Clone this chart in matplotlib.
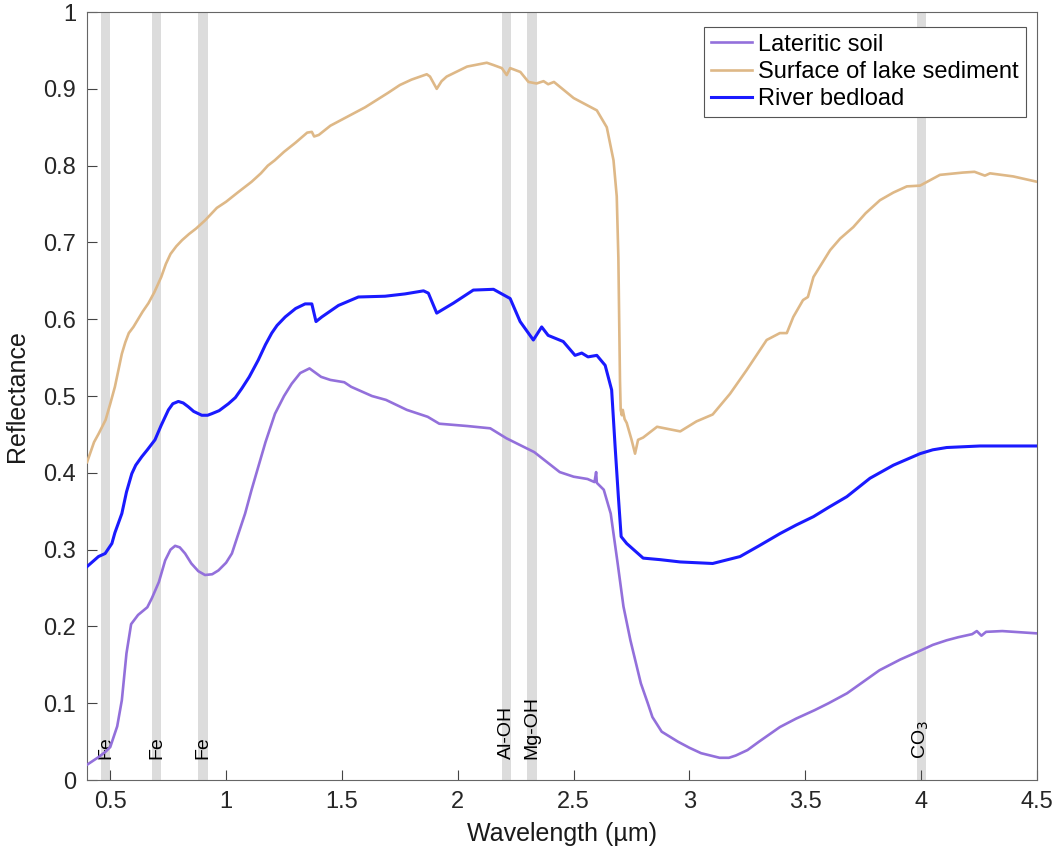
import matplotlib
matplotlib.use("Agg")
import matplotlib.pyplot as plt
from matplotlib.ticker import FuncFormatter, MultipleLocator

plt.rcParams['font.family'] = ['Liberation Sans', 'DejaVu Sans']

# ---- data ----
soil_wl = [0.40, 0.45, 0.48, 0.50, 0.53, 0.55, 0.57, 0.59, 0.62, 0.66, 0.68, 0.71, 0.737, 0.76, 0.78,
           0.80, 0.823, 0.85, 0.88, 0.909, 0.94, 0.967, 1.00, 1.025, 1.05, 1.082, 1.11, 1.139, 1.17,
           1.211, 1.25, 1.283, 1.32, 1.36, 1.41, 1.45, 1.51, 1.54,
           1.63, 1.69, 1.78, 1.87, 1.92, 2.04, 2.14, 2.21, 2.33, 2.44, 2.50, 2.56, 2.59, 2.597,
           2.60, 2.63, 2.66, 2.69, 2.715, 2.745, 2.79, 2.82, 2.84, 2.88, 2.95, 3.00, 3.05, 3.13, 3.17,
           3.20, 3.25, 3.30, 3.39, 3.46, 3.54, 3.60, 3.68, 3.75, 3.82, 3.91, 4.00, 4.05, 4.11, 4.16,
           4.22, 4.24, 4.26, 4.28, 4.35, 4.50]
soil_r = [0.020, 0.030, 0.037, 0.043, 0.070, 0.104, 0.165, 0.203, 0.215, 0.225, 0.237, 0.258, 0.286, 0.300, 0.305,
          0.303, 0.295, 0.282, 0.272, 0.267, 0.268, 0.273, 0.283, 0.295, 0.318, 0.347, 0.378, 0.408, 0.440,
          0.477, 0.500, 0.516, 0.530, 0.536, 0.525, 0.521, 0.518, 0.512,
          0.500, 0.495, 0.482, 0.473, 0.464, 0.461, 0.458, 0.445, 0.427, 0.401, 0.395, 0.392, 0.388, 0.401,
          0.387, 0.378, 0.347, 0.282, 0.226, 0.182, 0.126, 0.100, 0.082, 0.063, 0.050, 0.042, 0.035, 0.029, 0.029,
          0.032, 0.039, 0.050, 0.069, 0.080, 0.091, 0.100, 0.113, 0.128, 0.143, 0.157, 0.169, 0.176, 0.182, 0.186,
          0.190, 0.194, 0.188, 0.193, 0.194, 0.191]

lake_wl = [0.40, 0.43, 0.45, 0.48, 0.50, 0.52, 0.55, 0.565, 0.58, 0.60, 0.62, 0.64, 0.665, 0.69, 0.72,
           0.74, 0.76, 0.785, 0.81, 0.84, 0.87, 0.91, 0.96,
           1.00, 1.05, 1.11, 1.15, 1.18, 1.21, 1.25, 1.30, 1.35, 1.37, 1.38, 1.40, 1.45, 1.50, 1.60, 1.70,
           1.75, 1.80, 1.866, 1.88, 1.909, 1.93, 1.952, 2.04, 2.125, 2.154, 2.19, 2.211, 2.226,
           2.27, 2.305, 2.34, 2.37, 2.39, 2.415, 2.50, 2.60, 2.643, 2.672, 2.686, 2.693, 2.700,
           2.703, 2.708, 2.712, 2.72, 2.729, 2.75, 2.765, 2.778, 2.80, 2.86, 2.96, 3.03, 3.10,
           3.175, 3.247, 3.333, 3.39, 3.42, 3.448, 3.49, 3.511, 3.535, 3.607, 3.65, 3.707, 3.76, 3.822,
           3.88, 3.938, 3.995, 4.081, 4.18, 4.23, 4.275, 4.297, 4.397, 4.50]
lake_r = [0.414, 0.440, 0.451, 0.469, 0.490, 0.512, 0.555, 0.570, 0.582, 0.590, 0.600, 0.610, 0.621, 0.635, 0.655,
          0.672, 0.685, 0.695, 0.703, 0.711, 0.718, 0.729, 0.745,
          0.753, 0.765, 0.779, 0.790, 0.800, 0.807, 0.818, 0.830, 0.843, 0.844, 0.838, 0.840, 0.852, 0.860, 0.876, 0.895,
          0.905, 0.912, 0.919, 0.916, 0.900, 0.910, 0.916, 0.929, 0.934, 0.931, 0.927, 0.918, 0.927,
          0.922, 0.909, 0.907, 0.910, 0.906, 0.909, 0.888, 0.872, 0.850, 0.807, 0.760, 0.680, 0.520,
          0.482, 0.475, 0.482, 0.470, 0.465, 0.443, 0.425, 0.443, 0.446, 0.460, 0.454, 0.467, 0.476,
          0.503, 0.534, 0.573, 0.582, 0.582, 0.603, 0.625, 0.629, 0.655, 0.690, 0.705, 0.720, 0.738, 0.755,
          0.765, 0.773, 0.774, 0.788, 0.791, 0.792, 0.787, 0.790, 0.786, 0.779]

river_wl = [0.40, 0.449, 0.478, 0.507, 0.52, 0.55, 0.57, 0.593, 0.61, 0.636, 0.66, 0.693, 0.72, 0.751, 0.77,
            0.794, 0.815, 0.837, 0.86, 0.895, 0.92, 0.938, 0.97,
            1.01, 1.04, 1.068, 1.10, 1.139, 1.17, 1.197, 1.22, 1.255, 1.30, 1.341, 1.37, 1.388, 1.413, 1.485,
            1.571, 1.686, 1.772,
            1.852, 1.873, 1.909, 1.981, 2.067, 2.154, 2.226, 2.269, 2.326, 2.362, 2.39, 2.455, 2.506,
            2.535, 2.562, 2.60, 2.636, 2.664, 2.679, 2.693, 2.705, 2.729, 2.80, 2.873, 2.96, 3.10,
            3.218, 3.30, 3.391, 3.46, 3.535, 3.60, 3.679, 3.779, 3.88, 3.995, 4.05, 4.11, 4.254, 4.50]
river_r = [0.278, 0.291, 0.295, 0.308, 0.322, 0.347, 0.375, 0.399, 0.410, 0.421, 0.430, 0.443, 0.462, 0.482, 0.490,
           0.493, 0.491, 0.486, 0.480, 0.475, 0.475, 0.477, 0.481,
           0.490, 0.498, 0.510, 0.525, 0.547, 0.567, 0.582, 0.592, 0.603, 0.614, 0.620, 0.620, 0.597, 0.603, 0.618,
           0.629, 0.630, 0.633,
           0.637, 0.634, 0.608, 0.621, 0.638, 0.639, 0.627, 0.597, 0.573, 0.590, 0.579, 0.571, 0.553,
           0.556, 0.551, 0.553, 0.540, 0.508, 0.434, 0.369, 0.317, 0.308, 0.289, 0.287, 0.284, 0.282,
           0.291, 0.305, 0.321, 0.332, 0.343, 0.355, 0.369, 0.393, 0.410, 0.425, 0.430, 0.433, 0.435, 0.435]

band_centers = [0.48, 0.70, 0.90, 2.21, 2.32, 4.00]
band_labels = ['Fe', 'Fe', 'Fe', 'Al-OH', 'Mg-OH', 'CO$_3$']
band_width = 0.04

series_names = ['Lateritic soil', 'Surface of lake sediment', 'River bedload']
x_ticks = [0.5, 1, 1.5, 2, 2.5, 3, 3.5, 4, 4.5]

# ---- figure ----
fig = plt.figure(figsize=(10.62, 8.61), dpi=100)
ax = fig.add_axes([0.082, 0.094, 0.8945, 0.892])

for c in band_centers:
    ax.axvspan(c - band_width / 2, c + band_width / 2, color='#dcdcdc', lw=0, zorder=0)
for c, lab in zip(band_centers, band_labels):
    ax.text(c, 0.028, lab, rotation=90, ha='center', va='bottom', fontsize=14, color='black', zorder=1)

ax.plot(soil_wl, soil_r, color='#9370DB', lw=1.9, label=series_names[0], zorder=3)
ax.plot(lake_wl, lake_r, color='#DEB887', lw=1.9, label=series_names[1], zorder=3)
ax.plot(river_wl, river_r, color='#1a1aff', lw=2.2, label=series_names[2], zorder=3)

ax.set_xlim(0.4, 4.5)
ax.set_ylim(0, 1)
ax.set_xticks(x_ticks)
ax.yaxis.set_major_locator(MultipleLocator(0.1))
fmt = FuncFormatter(lambda v, p: ('%g' % round(v, 2)))
ax.xaxis.set_major_formatter(fmt)
ax.yaxis.set_major_formatter(fmt)
ax.tick_params(direction='in', length=7, width=0.8, colors='#444444', labelcolor='#262626',
               labelsize=17, top=False, right=False, pad=8)
for s in ax.spines.values():
    s.set_color('#666666')
    s.set_linewidth(0.8)

ax.set_xlabel('Wavelength (µm)', fontsize=18, color='#1a1a1a', labelpad=6)
ax.set_ylabel('Reflectance', fontsize=18, color='#1a1a1a', labelpad=10)

leg = ax.legend(loc='upper right', bbox_to_anchor=(0.988, 0.981), borderaxespad=0,
                fontsize=17, fancybox=False, framealpha=1, edgecolor='#555555',
                handlelength=1.75, handletextpad=0.25, labelspacing=0.22, borderpad=0.3)
leg.get_frame().set_linewidth(0.8)

fig.savefig('out.png', dpi=100)
